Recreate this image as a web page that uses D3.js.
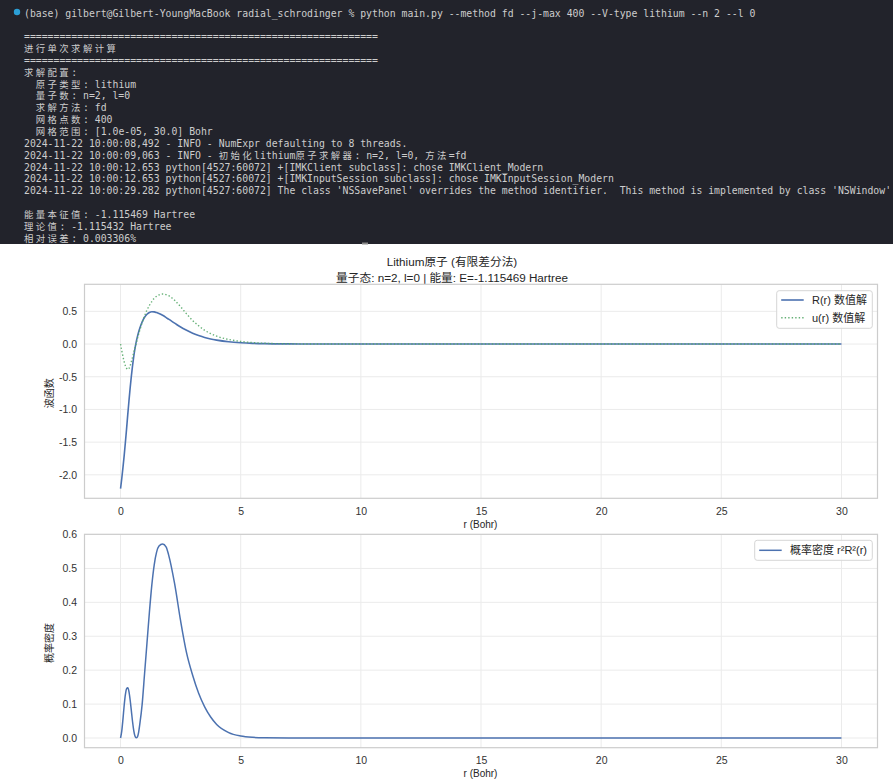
<!DOCTYPE html>
<html>
<head>
<meta charset="utf-8">
<script src="https://cdn.jsdelivr.net/npm/d3@7"></script>
<style>
  html, body { margin: 0; padding: 0; background: #ffffff; }
  svg { display: block; }
</style>
</head>
<body>
<svg id="fig" width="893" height="781"></svg>
<script>
// ---- radial grid (Bohr) and solutions ----
const radius = [0.00001, 0.05, 0.1, 0.15, 0.2, 0.25, 0.3, 0.35, 0.4, 0.45, 0.5, 0.55, 0.6, 0.65, 0.7, 0.75,
  0.8, 0.9, 1.0, 1.1, 1.2, 1.3, 1.4, 1.5, 1.6, 1.75, 1.9, 2.0, 2.25, 2.5, 2.75, 3.0, 3.25, 3.5, 3.75,
  4.0, 4.5, 5.0, 5.5, 6.0, 7.0, 8.0, 10, 15, 20, 25, 30];

// R(r) numerical solution
const radialR = [-2.21, -2.06, -1.89, -1.71, -1.51, -1.30, -1.08, -0.87, -0.67, -0.49, -0.33, -0.19, -0.07, 0.03, 0.11, 0.18,
  0.24, 0.34, 0.41, 0.455, 0.483, 0.494, 0.492, 0.482, 0.468, 0.44, 0.405, 0.38, 0.32, 0.26, 0.21, 0.165, 0.13, 0.10, 0.077,
  0.06, 0.035, 0.02, 0.011, 0.006, 0.002, 0.0005, 0.00005, 0, 0, 0, 0];

// u(r) = r R(r) numerical solution
const radialU = [0, -0.10, -0.19, -0.27, -0.33, -0.37, -0.387, -0.375, -0.33, -0.27, -0.20, -0.13, -0.06, 0.01, 0.08, 0.15,
  0.21, 0.33, 0.43, 0.52, 0.59, 0.65, 0.70, 0.73, 0.752, 0.765, 0.755, 0.74, 0.67, 0.57, 0.46, 0.36, 0.28, 0.21, 0.16,
  0.12, 0.07, 0.04, 0.022, 0.012, 0.004, 0.001, 0.0001, 0, 0, 0, 0];

// probability density r^2 R^2(r)
const density = [0, 0.02, 0.055, 0.095, 0.127, 0.145, 0.148, 0.137, 0.112, 0.08, 0.048, 0.022, 0.006, 0.0005, 0.003, 0.016,
  0.04, 0.10, 0.19, 0.28, 0.37, 0.45, 0.51, 0.548, 0.566, 0.572, 0.563, 0.54, 0.455, 0.345, 0.25, 0.185, 0.132, 0.092, 0.062,
  0.04, 0.016, 0.006, 0.002, 0.0007, 0.0001, 0, 0, 0, 0, 0, 0];

const xTicks = [0, 5, 10, 15, 20, 25, 30];
const waveTicks = [-2.0, -1.5, -1.0, -0.5, 0.0, 0.5];
const densityTicks = [0.0, 0.1, 0.2, 0.3, 0.4, 0.5, 0.6];

const titleLines = ["Lithium原子 (有限差分法)", "量子态: n=2, l=0 | 能量: E=-1.115469 Hartree"];
const waveLegend = ["R(r) 数值解", "u(r) 数值解"];
const densityLegend = ["概率密度 r²R²(r)"];

// console session printed above the plots
const terminalLines = [
  "(base) gilbert@Gilbert-YoungMacBook radial_schrodinger % python main.py --method fd --j-max 400 --V-type lithium --n 2 --l 0",
  "",
  "============================================================",
  "进行单次求解计算",
  "============================================================",
  "求解配置:",
  "  原子类型: lithium",
  "  量子数: n=2, l=0",
  "  求解方法: fd",
  "  网格点数: 400",
  "  网格范围: [1.0e-05, 30.0] Bohr",
  "2024-11-22 10:00:08,492 - INFO - NumExpr defaulting to 8 threads.",
  "2024-11-22 10:00:09,063 - INFO - 初始化lithium原子求解器: n=2, l=0, 方法=fd",
  "2024-11-22 10:00:12.653 python[4527:60072] +[IMKClient subclass]: chose IMKClient_Modern",
  "2024-11-22 10:00:12.653 python[4527:60072] +[IMKInputSession subclass]: chose IMKInputSession_Modern",
  "2024-11-22 10:00:29.282 python[4527:60072] The class 'NSSavePanel' overrides the method identifier.  This method is implemented by class 'NSWindow'",
  "",
  "能量本征值: -1.115469 Hartree",
  "理论值: -1.115432 Hartree",
  "相对误差: 0.003306%"
];

// ---- styling ----
const BLUE = "#4c72b0", GREEN = "#55a868";
const SANS = "'Liberation Sans', Arial, 'Noto Sans CJK SC', sans-serif";
const MONO = "'DejaVu Sans Mono', monospace";
const CJK = "'Noto Sans CJK SC', sans-serif";

const svg = d3.select("#fig");

// ---- terminal panel ----
const term = svg.append("g");
term.append("rect").attr("x", 0).attr("y", 0).attr("width", 893).attr("height", 244).attr("fill", "#22232b");
term.append("circle").attr("cx", 17).attr("cy", 12).attr("r", 3.2).attr("fill", "#2b9fd6");
term.append("rect").attr("x", 362).attr("y", 242.5).attr("width", 6).attr("height", 2).attr("fill", "#8a8a8a");

const cell = 5.9, monoSize = 9.8;
const cjkRe = /[\u2E80-\u9FFF\uFF00-\uFFEF]/;
terminalLines.forEach((line, i) => {
  if (!line) return;
  const t = term.append("text")
    .attr("y", 12.5 + i * 11.85)
    .attr("dominant-baseline", "central")
    .attr("font-size", monoSize)
    .attr("fill", "#cdcdcd")
    .style("white-space", "pre");
  const runs = line.match(/[\u2E80-\u9FFF\uFF00-\uFFEF]+|[^\u2E80-\u9FFF\uFF00-\uFFEF]+/g) || [];
  let col = 0;
  runs.forEach(run => {
    const wide = cjkRe.test(run[0]);
    t.append("tspan")
      .attr("x", 24 + col * cell)
      .attr("font-family", wide ? CJK : MONO)
      .attr("font-size", wide ? 9.4 : monoSize)
      .attr("letter-spacing", wide ? (2 * cell - 9.4) : 0)
      .text(run);
    col += wide ? 2 * run.length : run.length;
  });
});

// ---- figure title ----
svg.selectAll("text.title").data(titleLines).join("text")
  .attr("class", "title")
  .attr("x", 452).attr("y", (d, i) => 261.7 + i * 15.6)
  .attr("text-anchor", "middle").attr("dominant-baseline", "central")
  .attr("font-family", SANS).attr("font-size", 11.7).attr("fill", "#262626")
  .text(d => d);

// ---- shared helpers ----
function padDomain(values) {
  const lo = d3.min(values), hi = d3.max(values), m = (hi - lo) * 0.05;
  return [lo - m, hi + m];
}
const fmt = d => d.toFixed(1);

function panel(opts) {
  const { top, bottom, yDomain, yTicks, yLabel } = opts;
  const left = 84.5, right = 877.5;
  const x = d3.scaleLinear().domain(padDomain(radius)).range([left, right]);
  const y = d3.scaleLinear().domain(yDomain).range([bottom, top]);
  const g = svg.append("g");

  // grid
  g.append("g").selectAll("line").data(xTicks).join("line")
    .attr("x1", d => x(d)).attr("x2", d => x(d)).attr("y1", top).attr("y2", bottom)
    .attr("stroke", "#ebebeb").attr("stroke-width", 1);
  g.append("g").selectAll("line").data(yTicks).join("line")
    .attr("x1", left).attr("x2", right).attr("y1", d => y(d)).attr("y2", d => y(d))
    .attr("stroke", "#ebebeb").attr("stroke-width", 1);

  // axes (labels only, whitegrid style has no tick marks)
  const xa = g.append("g").attr("transform", `translate(0,${bottom})`)
    .call(d3.axisBottom(x).tickValues(xTicks).tickSize(0).tickPadding(9).tickFormat(d3.format("d")));
  const ya = g.append("g").attr("transform", `translate(${left},0)`)
    .call(d3.axisLeft(y).tickValues(yTicks).tickSize(0).tickPadding(7.5).tickFormat(fmt));
  [xa, ya].forEach(a => {
    a.select(".domain").remove();
    a.selectAll("text").attr("font-family", SANS).attr("font-size", 10.5).attr("fill", "#333333");
  });

  // spines
  g.append("rect").attr("x", left).attr("y", top).attr("width", right - left).attr("height", bottom - top)
    .attr("fill", "none").attr("stroke", "#cccccc").attr("stroke-width", 1.2);

  // axis titles
  g.append("text").attr("x", (left + right) / 2 - 0.5).attr("y", bottom + 26)
    .attr("text-anchor", "middle").attr("dominant-baseline", "central")
    .attr("font-family", SANS).attr("font-size", 10).attr("fill", "#262626").text("r (Bohr)");
  g.append("text").attr("transform", `translate(49,${(top + bottom) / 2 + 2}) rotate(-90)`)
    .attr("text-anchor", "middle").attr("dominant-baseline", "central")
    .attr("font-family", SANS).attr("font-size", 10).attr("fill", "#262626").text(yLabel);

  return { g, x, y };
}

function lineOf(x, y, values) {
  return d3.line().x((d, i) => x(radius[i])).y(d => y(d)).curve(d3.curveMonotoneX)(values);
}

function legend(g, box, items) {
  g.append("rect").attr("x", box.x).attr("y", box.y).attr("width", box.w).attr("height", box.h)
    .attr("rx", 2.5).attr("fill", "#ffffff").attr("fill-opacity", 0.85)
    .attr("stroke", "#d6d6d6").attr("stroke-width", 1);
  items.forEach((it, i) => {
    const cy = box.y + box.first + i * box.step;
    g.append("line").attr("x1", box.x + 4.5).attr("x2", box.x + 27).attr("y1", cy).attr("y2", cy)
      .attr("stroke", it.color).attr("stroke-width", it.width)
      .attr("stroke-dasharray", it.dash || null).attr("opacity", it.opacity || 1);
    g.append("text").attr("x", box.x + 35.3).attr("y", cy)
      .attr("dominant-baseline", "central")
      .attr("font-family", SANS).attr("font-size", 11).attr("fill", "#262626").text(it.label);
  });
}

// ---- upper panel: wave functions ----
const top1 = panel({ top: 284.3, bottom: 498.3, yDomain: padDomain(radialR.concat(radialU)), yTicks: waveTicks, yLabel: "波函数" });
top1.g.append("path").attr("d", lineOf(top1.x, top1.y, radialR))
  .attr("fill", "none").attr("stroke", BLUE).attr("stroke-width", 1.6).attr("stroke-linejoin", "round");
top1.g.append("path").attr("d", lineOf(top1.x, top1.y, radialU))
  .attr("fill", "none").attr("stroke", GREEN).attr("stroke-width", 1.4).attr("opacity", 0.9)
  .attr("stroke-dasharray", "1.4,2.1");
legend(top1.g, { x: 776.7, y: 290.7, w: 95.6, h: 37.6, first: 9.3, step: 17.7 }, [
  { label: waveLegend[0], color: BLUE, width: 1.6 },
  { label: waveLegend[1], color: GREEN, width: 1.4, dash: "1.4,2.1", opacity: 0.9 }
]);

// ---- lower panel: probability density ----
const bot = panel({ top: 534.3, bottom: 747.7, yDomain: padDomain(density), yTicks: densityTicks, yLabel: "概率密度" });
bot.g.append("path").attr("d", lineOf(bot.x, bot.y, density))
  .attr("fill", "none").attr("stroke", BLUE).attr("stroke-width", 1.5).attr("stroke-linejoin", "round");
legend(bot.g, { x: 754.7, y: 540.3, w: 117.6, h: 20, first: 10, step: 0 }, [
  { label: densityLegend[0], color: BLUE, width: 1.5 }
]);
</script>
</body>
</html>
